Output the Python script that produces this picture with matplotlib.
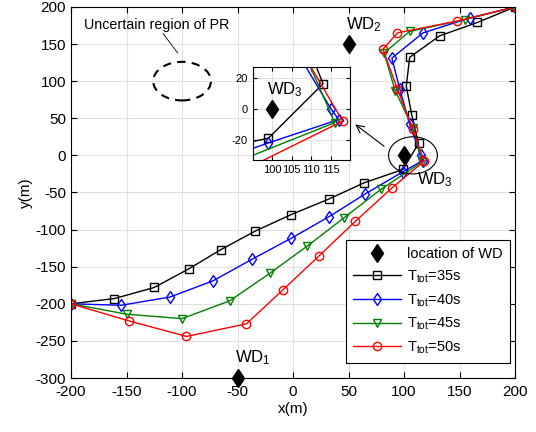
import numpy as np
import matplotlib.pyplot as plt
from matplotlib.patches import Ellipse

plt.rcParams['font.family'] = ['Liberation Sans', 'DejaVu Sans']
plt.rcParams['mathtext.fontset'] = 'custom'
plt.rcParams['mathtext.rm'] = 'Liberation Sans'
plt.rcParams['mathtext.it'] = 'Liberation Sans'
plt.rcParams['axes.unicode_minus'] = False

# trajectories (x, y) for each total time
x35 = [-200, -161, -125, -94, -65, -34, -2, 32, 64, 99, 113, 107, 102, 105, 132, 166, 200]
y35 = [-200, -193, -178, -153, -127, -102, -80, -59, -37, -19, 16, 54, 93, 132, 161, 179, 200]
x40 = [-200, -155, -111, -72, -37, -2, 32, 65, 99, 117, 115, 105, 96, 89, 117, 159, 200]
y40 = [-200, -202, -191, -169, -140, -112, -83, -52, -22, -7, 0, 42, 90, 131, 165, 185, 200]
x45 = [-200, -150, -100, -57, -21, 13, 46, 79, 116, 108, 92, 82, 105, 155, 200]
y45 = [-200, -214, -220, -196, -159, -122, -84, -46, -9, 37, 87, 138, 167, 183, 200]
x50 = [-200, -148, -96, -42, -9, 23, 56, 89, 118, 108, 94, 81, 94, 148, 200]
y50 = [-200, -223, -244, -227, -181, -136, -89, -44, -8, 35, 89, 143, 165, 181, 200]

wd_x = [-50, 50, 100]
wd_y = [-300, 150, 0]

series = [
    (x35, y35, 'k', 's', r'T$_{tot}$=35s'),
    (x40, y40, 'b', 'd', r'T$_{tot}$=40s'),
    (x45, y45, 'g', 'v', r'T$_{tot}$=45s'),
    (x50, y50, 'r', 'o', r'T$_{tot}$=50s'),
]

fig = plt.figure(figsize=(5.36, 4.32), dpi=100)
ax = fig.add_axes([0.1325, 0.125, 0.8285, 0.859])

ax.plot(wd_x, wd_y, 'kd', markersize=9.5, linestyle='none', label='location of WD', clip_on=False, zorder=5)
for xs, ys, c, m, lab in series:
    ax.plot(xs, ys, color=c, marker=m, markerfacecolor='none', markersize=6, lw=1, label=lab)

ax.set_xlim(-200, 200)
ax.set_ylim(-300, 200)
ax.set_xticks(np.arange(-200, 201, 50))
ax.set_yticks(np.arange(-300, 201, 50))
ax.grid(True, color='#e0e0e0', lw=0.8)
ax.set_axisbelow(True)
ax.tick_params(direction='in', top=True, right=True, labelsize=11, length=4)
ax.tick_params(axis='x', pad=5)
ax.set_xlabel('x(m)', fontsize=11, labelpad=2)
ax.set_ylabel('y(m)', fontsize=11, labelpad=2)

# annotations
ax.text(-52, -273, r'WD$_1$', fontsize=12, va='center')
ax.text(48, 176, r'WD$_2$', fontsize=12, va='center')
ax.text(112, -33, r'WD$_3$', fontsize=12, va='center')

ax.add_patch(Ellipse((-100, 100), 52, 52, fill=False, ls=(0, (4, 3)), lw=1.5, color='k'))
ax.text(-123, 176, 'Uncertain region of PR', fontsize=10.3, ha='center', va='center')
ax.plot([-117, -104], [164, 138], 'k', lw=0.6)

ax.add_patch(Ellipse((108, 0), 44, 50, fill=False, lw=0.8, color='k', zorder=6))
ax.annotate('', xy=(54, 44), xytext=(84, 10),
            arrowprops=dict(arrowstyle='->', lw=0.8, color='k', mutation_scale=14))

leg = ax.legend(loc='lower right', bbox_to_anchor=(1.005, 0.02), fontsize=10.5,
                handlelength=3.3, fancybox=False, framealpha=1, edgecolor='k',
                labelspacing=0.5, borderpad=0.5, handletextpad=0.4)
leg.get_frame().set_linewidth(0.8)

# zoomed inset
ins = fig.add_axes([0.4715, 0.6296, 0.1815, 0.216])
ins.plot([100], [0], 'kd', markersize=9.5)
for xs, ys, c, m, lab in series:
    ins.plot(xs, ys, color=c, marker=m, markerfacecolor='none', markersize=6, lw=1)
ins.set_xlim(95, 119.9)
ins.set_ylim(-33, 27)
ins.set_xticks([100, 105, 110, 115])
ins.set_yticks([-20, 0, 20])
ins.grid(True, color='#e0e0e0', lw=0.8)
ins.tick_params(direction='in', top=True, right=True, labelsize=8, length=3)
ins.text(98.7, 12, r'WD$_3$', fontsize=12, va='center')

fig.savefig('out.png', dpi=100)
